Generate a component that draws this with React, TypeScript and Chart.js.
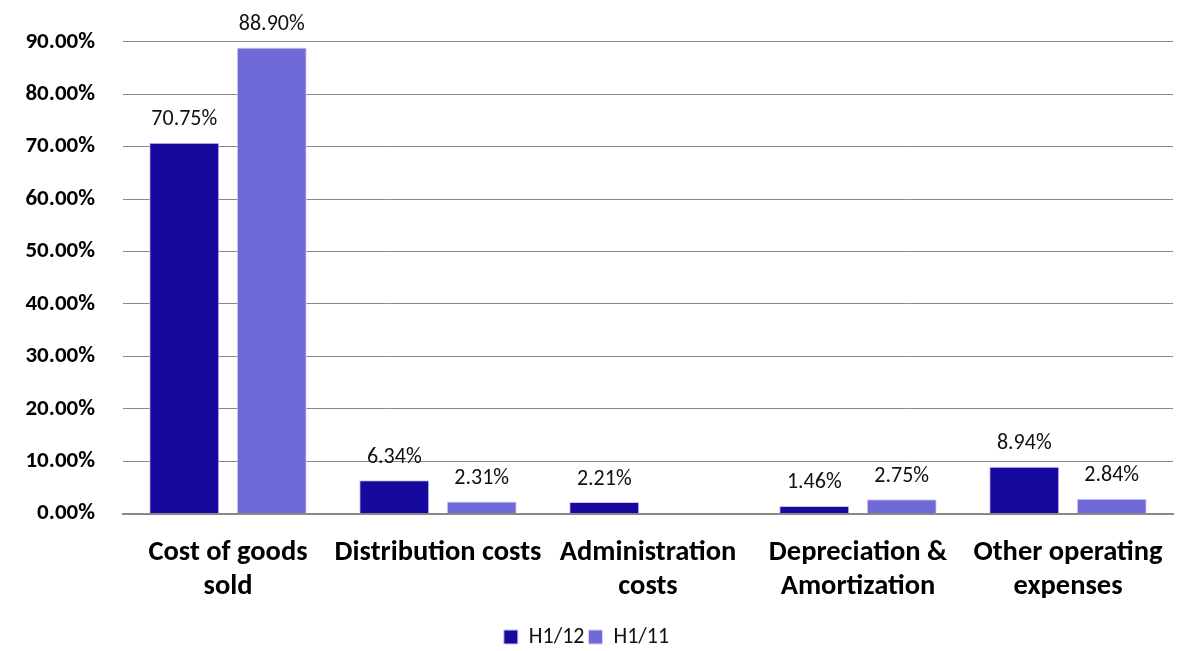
import React, { useEffect, useRef } from "react";
import { Chart, registerables } from "chart.js";

Chart.register(...registerables);

const categories: string[][] = [
  ["Cost of goods", "sold"],
  ["Distribution costs"],
  ["Administration", "costs"],
  ["Depreciation &", "Amortization"],
  ["Other operating", "expenses"],
];
const seriesH112: (number | null)[] = [70.75, 6.34, 2.21, 1.46, 8.94];
const seriesH111: (number | null)[] = [88.9, 2.31, null, 2.75, 2.84];
const yTicks: number[] = [0, 10, 20, 30, 40, 50, 60, 70, 80, 90];

const FONT = "Carlito, Lato, 'Noto Sans', sans-serif";

const labelPlugin = {
  id: "barLabels",
  afterDatasetsDraw(chart: any) {
    const ctx = chart.ctx;
    ctx.save();
    ctx.font = `22px ${FONT}`;
    ctx.fillStyle = "#111";
    ctx.textAlign = "center";
    ctx.textBaseline = "middle";
    chart.data.datasets.forEach((ds: any, i: number) => {
      const meta = chart.getDatasetMeta(i);
      meta.data.forEach((bar: any, j: number) => {
        const v = ds.data[j];
        if (v === null || v === undefined) return;
        ctx.fillText(v.toFixed(2) + "%", bar.x, bar.y - 23);
      });
    });
    ctx.restore();
  },
};

export default function App() {
  const ref = useRef<HTMLCanvasElement>(null);
  useEffect(() => {
    document.body.style.margin = "0";
    const chart = new Chart(ref.current!, {
      type: "bar",
      data: {
        labels: categories,
        datasets: [
          {
            label: "H1/12",
            data: seriesH112,
            backgroundColor: "#17089E",
            borderColor: "#c8c6f0",
            borderWidth: 1,
            categoryPercentage: 0.833,
            barPercentage: 0.8,
          },
          {
            label: "H1/11",
            data: seriesH111,
            backgroundColor: "#6F6AD8",
            borderColor: "#d6d4f6",
            borderWidth: 1,
            categoryPercentage: 0.833,
            barPercentage: 0.8,
          },
        ],
      },
      options: {
        animation: false,
        responsive: true,
        maintainAspectRatio: false,
        layout: { padding: { top: 41, right: 7, left: 0, bottom: 0 } },
        plugins: {
          legend: {
            position: "bottom",
            labels: {
              boxWidth: 14,
              boxHeight: 14,
              padding: 4,
              color: "#111",
              font: { family: FONT, size: 22 },
            },
          },
          tooltip: { enabled: false },
        },
        scales: {
          x: {
            grid: { display: false },
            border: { color: "#888", width: 2 },
            afterFit: (s: any) => {
              s.height += 4;
            },
            ticks: {
              color: "#000",
              padding: 14,
              font: { family: FONT, size: 28.5, weight: "bold", lineHeight: 1.2 },
              maxRotation: 0,
              autoSkip: false,
            },
          },
          y: {
            min: 0,
            max: 90,
            afterFit: (s: any) => {
              s.width = 123;
            },
            afterBuildTicks: (s: any) => {
              s.ticks = yTicks.map((v) => ({ value: v }));
            },
            grid: { color: "#888", lineWidth: 1, drawTicks: false },
            border: { display: false },
            ticks: {
              color: "#000",
              padding: 28,
              font: { family: FONT, size: 23, weight: "bold" },
              callback: (v: any) => Number(v).toFixed(2) + "%",
            },
          },
        },
      },
      plugins: [labelPlugin],
    });
    return () => chart.destroy();
  }, []);
  return (
    <div style={{ width: 1180, height: 651, overflow: "hidden" }}>
      <div style={{ width: 1180, height: 658, position: "relative" }}>
        <canvas ref={ref} />
      </div>
    </div>
  );
}
